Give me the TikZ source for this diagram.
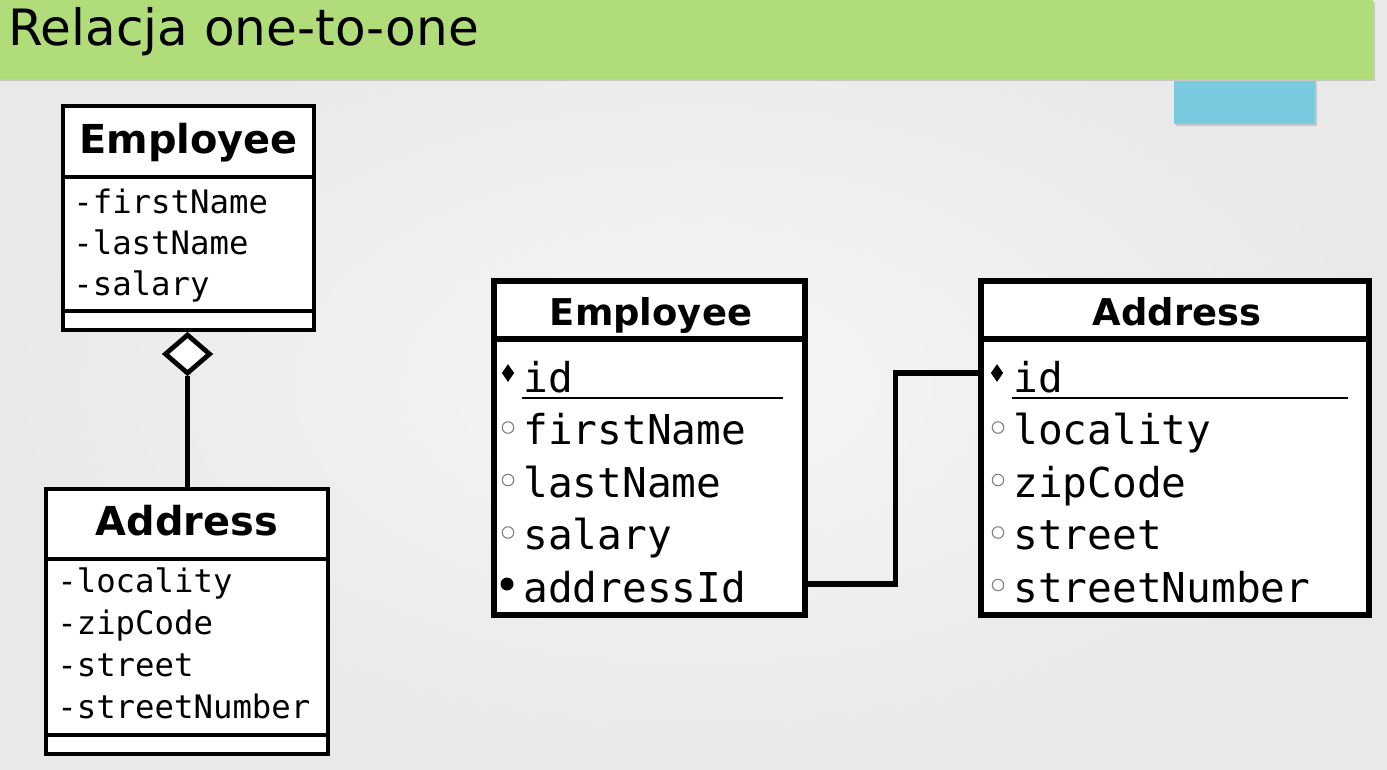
\documentclass[tikz,border=0pt]{standalone}
\usepackage{fontspec}
\setmainfont{DejaVu Sans}
\newfontfamily\attrfont{DejaVu Sans Mono}
\usetikzlibrary{positioning,shapes.geometric,fit,calc}
\definecolor{slidegray}{RGB}{233,233,233}
\definecolor{slidelight}{RGB}{246,246,246}
\definecolor{bannergreen}{RGB}{177,220,122}
\definecolor{tabblue}{RGB}{122,202,223}
\definecolor{markgray}{RGB}{125,125,125}

\begin{document}
\begin{tikzpicture}[x=0.02cm, y=-0.02cm,
  classbox/.style={draw, line width=2.7pt, fill=white, inner sep=0pt},
  tablebox/.style={draw, line width=3.1pt, fill=white, inner sep=0pt},
  classtitle/.style={anchor=base, inner sep=0pt, font=\bfseries\fontsize{22.7}{27}\selectfont},
  tabletitle/.style={anchor=base, inner sep=0pt, font=\bfseries\fontsize{21}{25}\selectfont},
  umlattr/.style={anchor=base west, inner sep=0pt, font=\attrfont\fontsize{18.4}{22}\selectfont},
  colattr/.style={anchor=base west, inner sep=0pt, font=\attrfont\fontsize{23.4}{28}\selectfont},
  pkmark/.style={diamond, fill=black, inner sep=0pt, minimum width=0.25cm, minimum height=0.36cm},
  colmark/.style={circle, draw=markgray, fill=white, line width=0.6pt, inner sep=0pt, minimum size=0.23cm},
  fkmark/.style={circle, fill=black, inner sep=0pt, minimum size=0.26cm},
  aggdiamond/.style={diamond, draw, fill=white, line width=2.7pt, inner sep=0pt,
    minimum width=0.92cm, minimum height=0.8cm},
  assoc/.style={line width=2.7pt},
  fklink/.style={line width=3.1pt}]
  \useasboundingbox (0,0) rectangle (1387,769);
  \shade[inner color=slidelight, outer color=slidegray] (0,0) rectangle (1387,769);

  % Banner with title and the small tab below it
  \fill[black!22] (1176,79) rectangle (1317,126);
  \fill[tabblue] (1174,79) rectangle (1315,124);
  \fill[black!22] (0,2) rectangle (1375,81);
  \fill[bannergreen] (0,0) rectangle (1373,79);
  \node[anchor=base west, inner sep=0pt, font=\fontsize{28.5}{32}\selectfont]
    (slideTitle) at (8,45) {Relacja one-to-one};

  % UML view: Employee aggregates Address
  \node[classbox, fit={(63,106) (314,330)}] (lEmp) {};
  \draw[assoc] (63,177) -- (314,177);
  \draw[assoc] (63,311) -- (314,311);
  \node[classtitle] (lEmpName) at (188.5,153) {Employee};
  \foreach \f [count=\i from 0] in {firstName,lastName,salary}
    \node[umlattr] (lEmpAttr\i) at (73,213+41*\i) {-\f};

  \node[classbox, fit={(46,489) (328,754)}] (lAddr) {};
  \draw[assoc] (46,559) -- (328,559);
  \draw[assoc] (46,735) -- (328,735);
  \node[classtitle] (lAddrName) at (187,535) {Address};
  \foreach \f [count=\i from 0] in {locality,zipCode,street,streetNumber}
    \node[umlattr] (lAddrAttr\i) at (57,592+42*\i) {-\f};

  \node[aggdiamond] (agg) at (187.5,354) {};
  \draw[assoc] (agg.south) -- (lAddr.north -| agg.south);

  % Table view: Employee.addressId -> Address.id
  \node[tablebox, fit={(494,281) (805,615)}] (mEmp) {};
  \draw[fklink] (494,339) -- (805,339);
  \node[tabletitle] (mEmpName) at (651,325) {Employee};
  \node[colattr] (mEmpId) at (523,392) {id};
  \draw[line width=1.3pt] (522,398) -- (783,398);
  \node[pkmark] (ePk) at (508,373) {};
  \foreach \f [count=\i] in {firstName,lastName,salary} {
    \node[colattr] (mEmpCol\i) at (523,392+52.5*\i) {\f};
    \node[colmark] (eMark\i) at (508,375+52.5*\i) {};
  }
  \node[colattr] (mEmpFk) at (523,602) {addressId};
  \node[fkmark] (fkDot) at (507,584) {};

  \node[tablebox, fit={(981,281) (1369,615)}] (mAddr) {};
  \draw[fklink] (981,339) -- (1369,339);
  \node[tabletitle] (mAddrName) at (1177,325) {Address};
  \node[colattr] (mAddrId) at (1013,392) {id};
  \draw[line width=1.3pt] (1012,398) -- (1348,398);
  \node[pkmark] (aPk) at (997,373) {};
  \foreach \f [count=\i] in {locality,zipCode,street,streetNumber} {
    \node[colattr] (mAddrCol\i) at (1013,392+52.5*\i) {\f};
    \node[colmark] (aMark\i) at (998,375+52.5*\i) {};
  }

  \draw[fklink] (mEmp.east |- fkDot) -- ++(88,0) |- (mAddr.west |- aPk);
\end{tikzpicture}
\end{document}
